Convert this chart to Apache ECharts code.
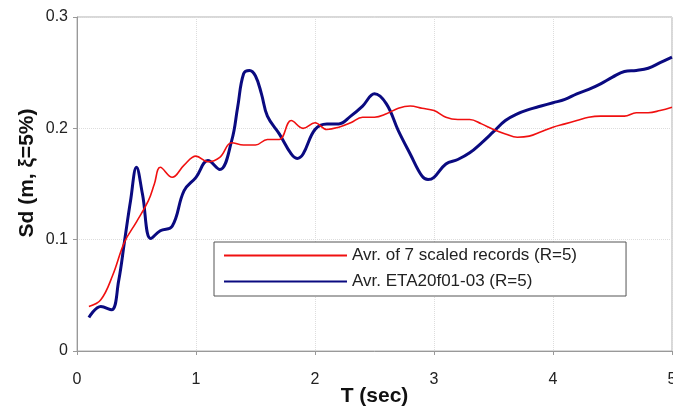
<!DOCTYPE html>
<html style="height: 100%">
<head>
    <meta charset="utf-8">
    <script src="https://cdn.jsdelivr.net/npm/echarts@6/dist/echarts.min.js"></script>
</head>
<body style="height: 100%; margin: 0; background: #fff">
    <div id="main" style="width: 673px; height: 409px"></div>
    <script type="text/javascript">
        // Avr. of 7 scaled records (R=5)
        var tRed = [0.1, 0.2, 0.3, 0.4, 0.5, 0.6, 0.65, 0.7, 0.8, 0.9, 1.0, 1.1, 1.2, 1.3, 1.4, 1.5, 1.6, 1.7, 1.8, 1.9,
            2.0, 2.1, 2.2, 2.3, 2.4, 2.5, 2.6, 2.7, 2.8, 2.9, 3.0, 3.1, 3.2, 3.3, 3.4, 3.5, 3.6, 3.7, 3.8, 3.9,
            4.0, 4.1, 4.2, 4.3, 4.4, 4.5, 4.6, 4.7, 4.8, 4.9, 5.0];
        var sdRed = [0.040, 0.046, 0.068, 0.098, 0.116, 0.135, 0.150, 0.165, 0.156, 0.167, 0.175, 0.170, 0.174, 0.187, 0.185, 0.185, 0.190, 0.190, 0.207, 0.200,
            0.205, 0.199, 0.201, 0.205, 0.210, 0.210, 0.213, 0.218, 0.220, 0.218, 0.216, 0.210, 0.208, 0.208, 0.204, 0.199, 0.195, 0.192, 0.193, 0.197,
            0.201, 0.204, 0.207, 0.210, 0.211, 0.211, 0.211, 0.214, 0.214, 0.216, 0.219];

        // Avr. ETA20f01-03 (R=5)
        var tBlue = [0.1, 0.2, 0.29, 0.35, 0.4, 0.45, 0.5, 0.55, 0.62, 0.7, 0.8, 0.9, 1.0, 1.1, 1.2, 1.3, 1.35, 1.4, 1.45, 1.5,
            1.55, 1.6, 1.7, 1.8, 1.85, 1.9, 2.0, 2.1, 2.2, 2.3, 2.4, 2.5, 2.6, 2.7, 2.8, 2.9, 2.95, 3.0, 3.1, 3.2,
            3.3, 3.4, 3.5, 3.6, 3.7, 3.8, 3.9, 4.0, 4.1, 4.2, 4.3, 4.4, 4.5, 4.6, 4.7, 4.8, 4.9, 5.0];
        var sdBlue = [0.030, 0.040, 0.037, 0.063, 0.099, 0.135, 0.165, 0.141, 0.101, 0.108, 0.112, 0.144, 0.156, 0.171, 0.163, 0.189, 0.219, 0.249, 0.252, 0.247,
            0.231, 0.211, 0.195, 0.177, 0.173, 0.177, 0.199, 0.204, 0.204, 0.211, 0.220, 0.231, 0.222, 0.198, 0.177, 0.157, 0.154, 0.156, 0.168, 0.172,
            0.178, 0.187, 0.197, 0.207, 0.213, 0.217, 0.220, 0.223, 0.226, 0.231, 0.235, 0.240, 0.246, 0.251, 0.252, 0.254, 0.259, 0.264];

        var seriesNames = ['Avr. of 7 scaled records (R=5)', 'Avr. ETA20f01-03 (R=5)'];

        function pairs(xs, ys) {
            return xs.map(function (x, i) { return [x, ys[i]]; });
        }

        var myChart = echarts.init(document.getElementById('main'));
        var font = 'Liberation Sans, Arial, sans-serif';

        var option = {
            animation: false,
            backgroundColor: '#fff',
            grid: {
                left: 77, right: 1, top: 17, bottom: 58,
                outerBoundsMode: 'none',
                show: true, borderColor: '#b0b0b0', borderWidth: 1
            },
            legend: {
                orient: 'vertical',
                left: 214, top: 242,
                data: seriesNames,
                itemWidth: 123, itemHeight: 14, itemGap: 9,
                padding: [5, 49, 6, 9],
                borderColor: '#555', borderWidth: 1,
                backgroundColor: '#fff',
                itemStyle: { opacity: 0 },
                textStyle: { fontFamily: font, fontSize: 17, color: '#222' }
            },
            xAxis: {
                type: 'value', min: 0, max: 5, interval: 1,
                name: 'T (sec)', nameLocation: 'middle', nameGap: 35, nameMoveOverlap: false,
                nameTextStyle: { fontFamily: font, fontSize: 21, fontWeight: 'bold', color: '#111' },
                axisLine: { onZero: false, lineStyle: { color: '#999' } },
                axisTick: { show: true, length: 4, lineStyle: { color: '#999' } },
                axisLabel: { fontFamily: font, fontSize: 16, color: '#222', margin: 21 },
                splitLine: { show: true, lineStyle: { color: '#ddd', type: 'dotted' } }
            },
            yAxis: {
                type: 'value', min: 0, max: 0.3, interval: 0.1,
                name: 'Sd (m, ξ=5%)', nameLocation: 'middle', nameGap: 39, nameMoveOverlap: false,
                nameTextStyle: { fontFamily: font, fontSize: 21, fontWeight: 'bold', color: '#111', padding: [0, 0, 0, 22] },
                axisLine: { show: true, lineStyle: { color: '#999' } },
                axisTick: { show: true, length: 4, lineStyle: { color: '#999' } },
                axisLabel: { fontFamily: font, fontSize: 16, color: '#222', margin: 9 },
                splitLine: { show: true, lineStyle: { color: '#ddd', type: 'dotted' } }
            },
            series: [
                {
                    name: seriesNames[0], type: 'line', symbol: 'none', smooth: 0.4,
                    data: pairs(tRed, sdRed),
                    color: '#f01010',
                    lineStyle: { color: '#f01010', width: 1.6 },
                    z: 3
                },
                {
                    name: seriesNames[1], type: 'line', symbol: 'none', smooth: 0.4,
                    data: pairs(tBlue, sdBlue),
                    color: '#0a0a80',
                    lineStyle: { color: '#0a0a80', width: 3 },
                    z: 2
                }
            ]
        };
        myChart.setOption(option);
    </script>
</body>
</html>
